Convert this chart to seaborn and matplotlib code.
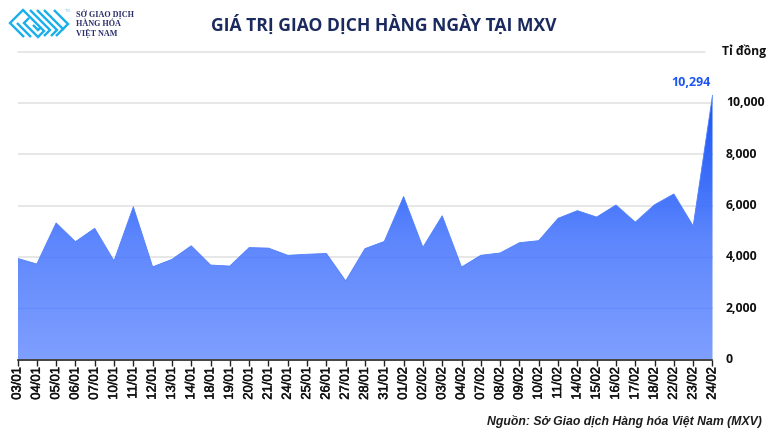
import numpy as np
import pandas as pd
import matplotlib
matplotlib.use("Agg")
import matplotlib.pyplot as plt
import matplotlib.patheffects as pe
import seaborn as sns
from matplotlib.colors import LinearSegmentedColormap
from matplotlib.patches import Polygon

dates = ["03/01","04/01","05/01","06/01","07/01","10/01","11/01","12/01","13/01","14/01","18/01","19/01",
         "20/01","21/01","24/01","25/01","26/01","27/01","28/01","31/01","01/02","02/02","03/02","04/02",
         "07/02","08/02","09/02","10/02","11/02","14/02","15/02","16/02","17/02","18/02","22/02","23/02","24/02"]
values = [3940,3720,5320,4590,5110,3840,5950,3610,3900,4430,3680,3640,
          4360,4340,4060,4100,4130,3060,4320,4600,6350,4370,5600,3600,
          4060,4150,4550,4630,5500,5800,5550,6020,5350,6030,6450,5200,10294]
yticks = [0,2000,4000,6000,8000,10000]
df = pd.DataFrame({"pos": range(len(dates)), "value": values})

sns.set_theme(style="white")
plt.rcParams["font.family"] = ["Liberation Sans", "DejaVu Sans"]
W, H = 770, 433
fig = plt.figure(figsize=(W/100, H/100), dpi=100, facecolor="white")
ax = fig.add_axes([17.5/W, 1-359.5/H, 695/W, 308/H])
ax.set_xlim(0, len(dates)-1)
ax.set_ylim(0, 12000)

for v in yticks[1:]:
    ax.axhline(v, color="#e0e0e0", lw=1.1, zorder=1)
ax.axhline(12000, xmax=687.5/695, color="#e0e0e0", lw=1.1, zorder=1, clip_on=False)

cmap = LinearSegmentedColormap.from_list("b", [(0, "#7f9fff"), (0.45, "#5e87fd"), (0.65, "#4072fa"), (1, "#1a55f5")])
grad = np.linspace(0, 1, 256).reshape(-1, 1)
im = ax.imshow(grad, origin="lower", aspect="auto", cmap=cmap,
               extent=[0, len(dates)-1, 0, max(values)], zorder=2)
poly = Polygon(np.column_stack([[0]+list(df.pos)+[len(dates)-1], [0]+values+[0]]),
               transform=ax.transData, fc="none", ec="none")
ax.add_patch(poly)
im.set_clip_path(poly)
ax.set_xlim(0, len(dates)-1)
ax.set_ylim(0, 12000)
for v in yticks[1:]:
    gl = ax.axhline(v, color="#3f6cf0", alpha=0.22, lw=1.0, zorder=3)
    gl.set_clip_path(poly)
sns.lineplot(data=df, x="pos", y="value", ax=ax, color="#4f7ffb", lw=0.6, zorder=3)

sns.despine(ax=ax, left=True, right=True, top=True)
ax.spines["bottom"].set_color("#222222")
ax.spines["bottom"].set_linewidth(1.2)
ax.set_xlabel(""); ax.set_ylabel("")
ax.set_xticks(range(len(dates)))
ax.set_xticklabels(dates, rotation=90, fontsize=9.4, color="#111111")
for l in ax.get_xticklabels():
    l.set_path_effects([pe.withStroke(linewidth=0.35, foreground="#111111")])
ax.tick_params(axis="x", bottom=True, length=4, width=1, color="#222222", pad=1.5)
ax.set_yticks(yticks)
ax.set_yticklabels([])
ax.tick_params(axis="y", right=False, left=False)

def px(x, y, s, **kw):
    fig.text(x/W, 1-y/H, s, **kw)

for v in yticks:
    y_px = 359.5 - v/12000*308
    px(726, y_px, f"{v:,}", ha="left", va="center", fontsize=8.8, fontweight="bold",
       family=["Open Sans"], color="#111111")

px(384, 25, "GIÁ TRỊ GIAO DỊCH HÀNG NGÀY TẠI MXV", ha="center", va="center", fontsize=12.6,
   fontweight="bold", family=["Open Sans"], color="#1a2a5e")
px(744, 51.5, "Tỉ đồng", ha="center", va="center", fontsize=8.7, fontweight="bold",
   family=["Open Sans"], color="#111111")
px(711, 82.5, "10,294", ha="right", va="center", fontsize=9, fontweight="bold",
   family=["Open Sans"], color="#1d55f0")
px(762, 421.5, "Nguồn: Sở Giao dịch Hàng hóa Việt Nam (MXV)", ha="right", va="center", fontsize=8.8,
   fontweight="bold", style="italic", color="#1c1c1c")

# logo
lg = fig.add_axes([0, 1-60/H, 200/W, 60/H])
lg.set_xlim(0, 200); lg.set_ylim(60, 0); lg.axis("off"); lg.patch.set_alpha(0)
c = "#1aaeea"
paths = [[(24,37),(10,23),(23,10),(44,31),(38,37),(24,23),(29,18)],
         [(30,10),(50,30),(44,36)],
         [(37,10),(57,30),(51,36)],
         [(44,10),(63,29),(56,36)],
         [(54,10),(68,24),(62,30)],
         [(17,23),(31,37)],
         [(33,25),(38,30),(41,27)]]
for pts in paths:
    lg.plot(*zip(*pts), color=c, lw=1.7, solid_joinstyle="miter", solid_capstyle="butt")
lg.text(65, 11, "TM", fontsize=2.8, color="#7fcdf0", va="center", ha="left")
for y, s in [(14, "SỞ GIAO DỊCH"), (24, "HÀNG HÓA"), (33, "VIỆT NAM")]:
    lg.text(76, y, s, fontsize=5.9, fontweight="bold", family=["Liberation Serif"], color="#2b2f6b", va="center", ha="left")

fig.savefig("out.png", dpi=100, facecolor="white")
